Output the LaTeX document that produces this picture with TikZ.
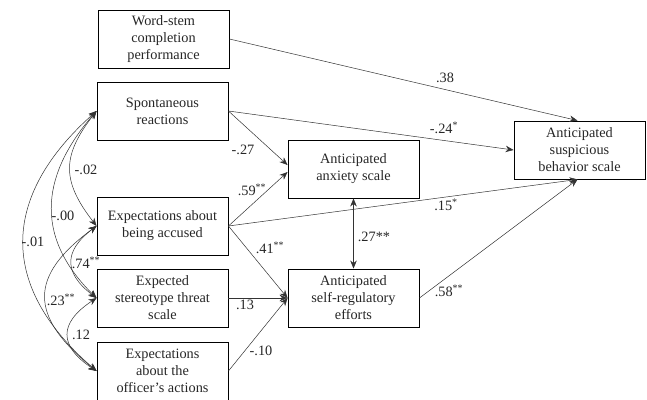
\documentclass[tikz,border=0pt]{standalone}
\usepackage{fontspec}
\setmainfont{Liberation Serif}
\usetikzlibrary{arrows.meta,calc}
\begin{document}
\begin{tikzpicture}[x=1pt,y=1pt,
  box/.style={draw=black,line width=0.9pt,minimum width=131pt,minimum height=58pt,inner sep=0pt,align=center,font=\fontsize{14.3}{17}\selectfont,text=black!85},
  lab/.style={inner sep=0pt,font=\fontsize{14.3}{17}\selectfont,text=black!85},
  arr/.style={draw=black!80,line width=0.5pt,-{Stealth[length=8pt,width=6.5pt]}},
  darr/.style={draw=black!80,line width=0.5pt,{Stealth[length=8pt,width=6.5pt]}-{Stealth[length=8pt,width=6.5pt]}}]
\useasboundingbox (0,0) rectangle (647,-399);
\node[box] (ws) at (163.5,-39) {Word-stem\\completion\\performance};
\node[box] (sp) at (162.5,-111) {Spontaneous\\reactions};
\node[box] (ac) at (162.5,-226) {Expectations about\\being accused};
\node[box] (st) at (162.5,-298) {Expected\\stereotype threat\\scale};
\node[box] (of) at (162.5,-371) {Expectations\\about the\\officer's actions};
\node[box] (anx) at (353.5,-169) {Anticipated\\anxiety scale};
\node[box] (sr) at (353.5,-298) {Anticipated\\self-regulatory\\efforts};
\node[box] (sus) at (579.5,-150) {Anticipated\\suspicious\\behavior scale};
\coordinate (anxA) at ($(anx.west)+(0,4)$);
\coordinate (anxB) at ($(anx.west)+(0,-3)$);
\coordinate (susT) at ($(sus.north)+(-2,0)$);
\coordinate (susB) at ($(sus.south)+(-2,0)$);
% paths
\draw[arr] (ws.east) -- (susT);
\draw[arr] (sp.east) -- (sus.west);
\draw[arr] (sp.east) -- (anxA);
\draw[arr] (ac.east) -- (anxB);
\draw[arr] (ac.east) -- (susB);
\draw[arr] (ac.east) -- (sr.west);
\draw[arr] (st.east) -- (sr.west);
\draw[arr] (of.east) -- (sr.west);
\draw[arr] (sr.east) -- (susB);
\draw[darr] (anx.south) -- (sr.north);
% correlations
\draw[darr] (sp.west) .. controls +(-35,-45) and +(-35,45) .. (ac.west);
\draw[darr] (sp.west) .. controls +(-52,-60) and +(-66,65) .. (st.west);
\draw[darr] (sp.west) .. controls +(-90,-80) and +(-104,90) .. (of.west);
\draw[darr] (ac.west) .. controls +(-33,-25) and +(-33,25) .. (st.west);
\draw[darr] (ac.west) .. controls +(-68,-50) and +(-68,55) .. (of.west);
\draw[darr] (st.west) .. controls +(-38,-25) and +(-38,25) .. (of.west);
% labels
\node[lab] (l1) at (445,-78) {.38};
\node[lab] (l2) at (444,-128) {-.24\textsuperscript{*}};
\node[lab] (l3) at (243,-150) {-.27};
\node[lab] (l4) at (86,-170) {-.02};
\node[lab] (l5) at (252,-190) {.59\textsuperscript{**}};
\node[lab] (l6) at (63,-216) {-.00};
\node[lab] (l7) at (33,-242) {-.01};
\node[lab] (l8) at (86,-263) {.74\textsuperscript{**}};
\node[lab] (l9) at (270,-248) {.41\textsuperscript{**}};
\node[lab] (l10) at (61,-300) {.23\textsuperscript{**}};
\node[lab] (l11) at (245,-305) {.13};
\node[lab] (l12) at (81,-335) {.12};
\node[lab] (l13) at (261,-351) {-.10};
\node[lab] (l14) at (446,-205) {.15\textsuperscript{*}};
\node[lab] (l15) at (374,-237) {.27**};
\node[lab] (l16) at (449,-291) {.58\textsuperscript{**}};
\end{tikzpicture}
\end{document}
